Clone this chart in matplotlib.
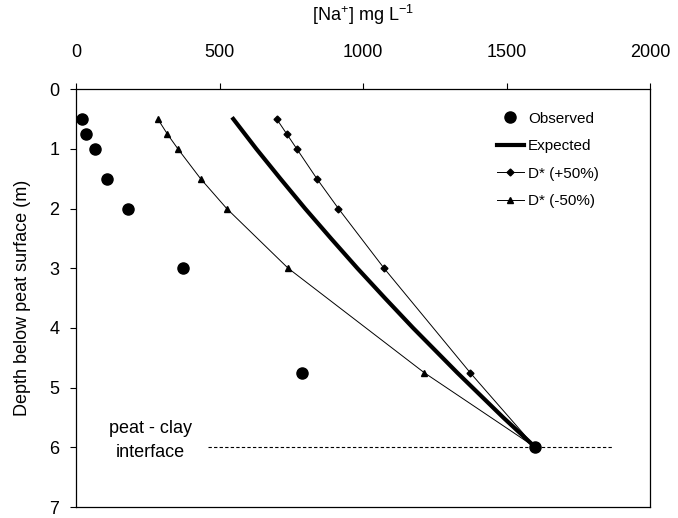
import matplotlib
matplotlib.use("Agg")
import matplotlib.pyplot as plt

# ── Data ─────────────────────────────────────────────────────────────────────
obs_na    = [20, 34, 66, 107, 182, 374, 789, 1600]
obs_depth = [0.5, 0.75, 1.0, 1.5, 2.0, 3.0, 4.75, 6.0]

model_depth = [0.5, 0.75, 1.0, 1.5, 2.0, 3.0, 4.75, 6.0]
plus50_na   = [699, 734, 769, 839, 914, 1073, 1373, 1600]
minus50_na  = [285, 318, 355, 434, 525, 739, 1213, 1600]

# expected profile is a smooth curve, read at more depths
exp_depth   = [0.5, 0.75, 1.0, 1.5, 2.0, 2.5, 3.0, 3.5, 4.0, 4.75, 5.5, 6.0]
expected_na = [548, 588, 628, 712, 798, 888, 980, 1076, 1174, 1328, 1488, 1600]

interface_depth = 6.0
interface_span  = [460, 1868]

plt.rcParams["font.family"] = ["Liberation Sans", "DejaVu Sans"]
plt.rcParams["mathtext.fontset"] = "custom"
plt.rcParams["mathtext.rm"] = "Liberation Sans"

fig = plt.figure(figsize=(6.78, 5.18), dpi=100)
ax = fig.add_axes([0.112, 0.0212, 0.847, 0.8068])

ax.plot(interface_span, [interface_depth] * 2, ls=(0, (3, 2)), color="black",
        lw=0.8, zorder=1)
ax.plot(expected_na, exp_depth, "-", color="black", lw=3.0,
        label="Expected", zorder=3)
ax.plot(plus50_na, model_depth, "-", marker="D", color="black", lw=0.7, ms=3.5,
        label="D* (+50%)", zorder=3)
ax.plot(minus50_na, model_depth, "-", marker="^", color="black", lw=0.7, ms=5,
        label="D* (-50%)", zorder=3)
ax.plot(obs_na, obs_depth, "o", color="black", ms=8, ls="none",
        label="Observed", zorder=4)

ax.set_xlim(0, 2000)
ax.set_ylim(7, 0)
ax.set_xticks([0, 500, 1000, 1500, 2000])
ax.set_yticks(range(0, 8))
ax.xaxis.tick_top()
ax.xaxis.set_label_position("top")
ax.tick_params(labelsize=13, length=4, width=0.8, direction="out")
ax.tick_params(axis="x", pad=16)
ax.tick_params(axis="y", pad=8)
ax.set_xlabel(r"[Na$^{+}$] mg L$^{\mathregular{-1}}$", fontsize=13, labelpad=17)
ax.set_ylabel("Depth below peat surface (m)", fontsize=13, labelpad=13)
for s in ax.spines.values():
    s.set_linewidth(0.9)

ax.text(258, 5.89, "peat - clay\ninterface", ha="center", va="center",
        fontsize=13, linespacing=1.55)

handles, labels = ax.get_legend_handles_labels()
order = [3, 0, 1, 2]
ax.legend([handles[i] for i in order], [labels[i] for i in order],
          loc="upper left", bbox_to_anchor=(0.733, 0.946), frameon=False,
          borderpad=0, borderaxespad=0,
          fontsize=11, handlelength=1.77, handletextpad=0.26, labelspacing=0.88)

fig.savefig("out.png", dpi=100)
